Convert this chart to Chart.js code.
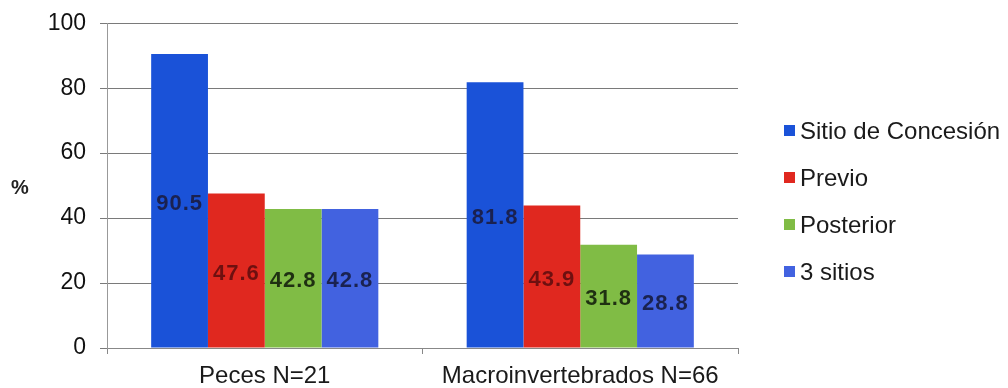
<!DOCTYPE html>
<html>
<head>
<meta charset="utf-8">
<script src="https://cdn.jsdelivr.net/npm/chart.js@4.4.1/dist/chart.umd.min.js"></script>
<style>
  html, body { margin: 0; padding: 0; background: #fff; }
  #wrap { width: 1008px; height: 388px; position: relative; }
</style>
</head>
<body>
<div id="wrap"><canvas id="chart" width="1008" height="388"></canvas></div>
<script>
const categories = ["Peces N=21", "Macroinvertebrados N=66"];
const seriesNames = ["Sitio de Concesión", "Previo", "Posterior", "3 sitios"];
const sitioConcesion = [90.5, 81.8];
const previo = [47.6, 43.9];
const posterior = [42.8, 31.8];
const tresSitios = [42.8, 28.8];
const yTicks = [0, 20, 40, 60, 80, 100];

const barColors = ["#1a52d8", "#e0281f", "#80bc45", "#4262e0"];
const labelColors = ["#1a2150", "#6e1010", "#1f3012", "#1a2250"];
const FONT = "'Liberation Sans', Arial, sans-serif";

const seriesValues = [sitioConcesion, previo, posterior, tresSitios];

// value printed in the middle of each bar
const barLabels = {
  id: "barLabels",
  afterDatasetsDraw(chart) {
    const ctx = chart.ctx;
    ctx.save();
    ctx.font = "bold 22px " + FONT;
    ctx.letterSpacing = "1px";
    ctx.textAlign = "center";
    ctx.textBaseline = "middle";
    chart.data.datasets.forEach((ds, i) => {
      chart.getDatasetMeta(i).data.forEach((bar, j) => {
        ctx.fillStyle = labelColors[i];
        ctx.fillText(ds.data[j].toFixed(1), bar.x, (bar.y + bar.base) / 2 + 3);
      });
    });
    ctx.restore();
  }
};

// "%" axis label and the legend on the right
const extras = {
  id: "extras",
  afterDraw(chart) {
    const ctx = chart.ctx;
    ctx.save();
    ctx.fillStyle = "#222";
    ctx.font = "bold 20px " + FONT;
    ctx.textAlign = "center";
    ctx.textBaseline = "middle";
    ctx.fillText("%", 20, 188);

    ctx.font = "24px " + FONT;
    ctx.textAlign = "left";
    seriesNames.forEach((name, i) => {
      const y = 131 + i * 47;
      ctx.fillStyle = barColors[i];
      ctx.fillRect(784, y - 6, 11, 11);
      ctx.fillStyle = "#1a1a1a";
      ctx.fillText(name, 800, y + 1);
    });
    ctx.restore();
  }
};

new Chart(document.getElementById("chart"), {
  type: "bar",
  data: {
    labels: categories,
    datasets: seriesValues.map((vals, i) => ({
      label: seriesNames[i],
      data: vals,
      backgroundColor: barColors[i],
      borderWidth: 0,
      categoryPercentage: 0.72,
      barPercentage: 1
    }))
  },
  options: {
    responsive: false,
    animation: false,
    layout: { padding: { top: 0, right: 270, bottom: 0, left: 0 } },
    plugins: {
      legend: { display: false },
      tooltip: { enabled: false }
    },
    scales: {
      x: {
        grid: {
          offset: true,
          drawOnChartArea: false,
          drawTicks: true,
          tickLength: 6,
          color: "#888"
        },
        border: { color: "#888", width: 1 },
        ticks: {
          color: "#1a1a1a",
          font: { family: FONT, size: 24 },
          padding: 8
        },
        afterFit(scale) { scale.height = 40; }
      },
      y: {
        min: 0,
        max: 100,
        afterBuildTicks(scale) { scale.ticks = yTicks.map(v => ({ value: v })); },
        grid: { color: "#7a7a7a", tickLength: 7, lineWidth: 1 },
        border: { color: "#999", width: 1 },
        ticks: {
          color: "#111",
          font: { family: FONT, size: 23, lineHeight: 0.8 },
          padding: 14
        },
        afterFit(scale) { scale.width = 107; }
      }
    }
  },
  plugins: [barLabels, extras]
});
</script>
</body>
</html>
